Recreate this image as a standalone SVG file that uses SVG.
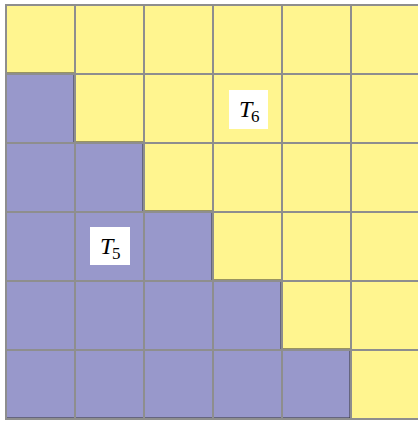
<svg xmlns="http://www.w3.org/2000/svg" width="418" height="422" viewBox="0 0 418 422">
<style>
.y{fill:#fff58f}
.b{fill:#9898cb}
.g{stroke:#8e8e8e;stroke-width:2;fill:none}
.d{stroke:#333;stroke-width:1;fill:none}
.lbl{fill:#fff}
.t{font-family:"Liberation Serif",serif;font-style:italic;font-size:24px;fill:#000}
.s{font-family:"Liberation Serif",serif;font-size:17px;fill:#000}
</style>
<rect x="0" y="0" width="418" height="422" fill="#fff"/>
<g id="yellow-region"><rect class="y" x="6" y="5" width="414" height="414"/></g>
<g id="blue-region"><polygon class="b" points="6,74 75,74 75,143 144,143 144,212 213,212 213,281 282,281 282,350 351,350 351,419 6,419"/></g>
<g id="staircase"><polyline class="d" points="6,73 74,73 74,142 143,142 143,211 212,211 212,280 281,280 281,349 350,349 350,418 6,418"/></g>
<g id="grid">
<path class="g" d="M6,5V420M75,5V420M144,5V420M213,5V420M282,5V420M351,5V420M5,5H420M5,74H420M5,143H420M5,212H420M5,281H420M5,350H420M5,419H420"/>
</g>
<g id="T6">
<rect class="lbl" x="229" y="90" width="39" height="39"/>
<text class="t" x="239" y="117">T</text><text class="s" x="251" y="122">6</text>
</g>
<g id="T5">
<rect class="lbl" x="90" y="227" width="40" height="38"/>
<text class="t" x="100" y="254">T</text><text class="s" x="112" y="259">5</text>
</g>
</svg>
